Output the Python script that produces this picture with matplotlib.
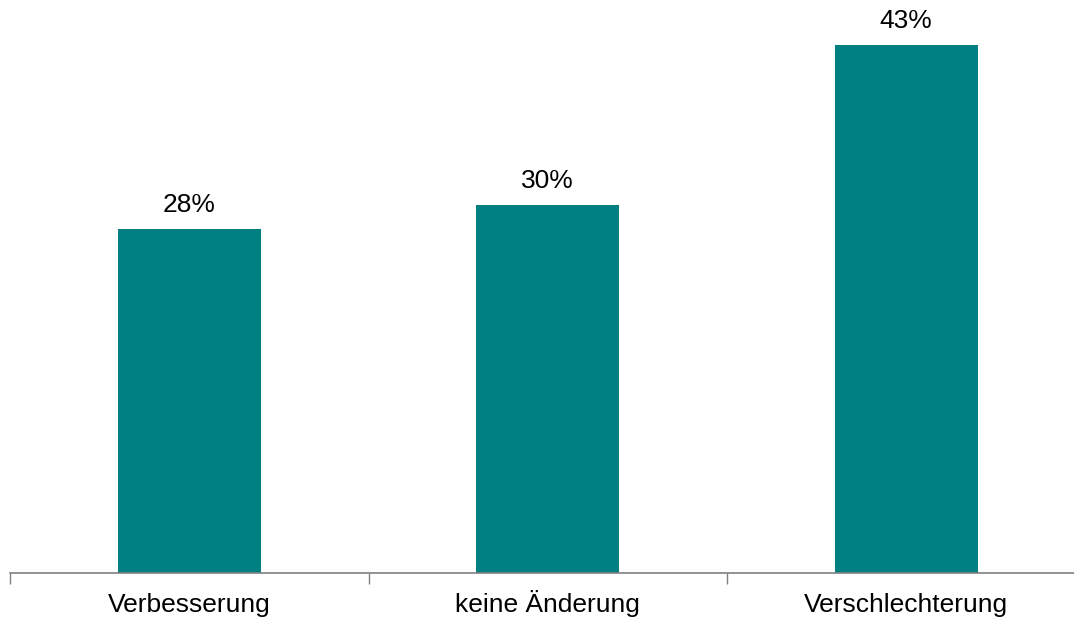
import numpy as np
import matplotlib
matplotlib.use('Agg')
import matplotlib.pyplot as plt

categories = ['Verbesserung', 'keine Änderung', 'Verschlechterung']
values = [28, 30, 43]
labels = ['28%', '30%', '43%']

plt.rcParams['font.family'] = ['Liberation Sans', 'DejaVu Sans']

fig = plt.figure(figsize=(10.74, 6.19), dpi=100)
# axes runs a bit past the right edge
ax = fig.add_axes([10 / 1074, 46 / 619, 1075.5 / 1074, 573 / 619])

x = np.arange(len(categories))
ax.bar(x, values, width=0.4, color='#008080')

# value labels, baseline ~17px above each bar
for xi, v, lab in zip(x, values, labels):
    ax.annotate(lab, xy=(xi, v), xytext=(0, 12.2), textcoords='offset points',
                ha='center', va='baseline', fontsize=19, color='black')

# category names on a common baseline below the axis
for xi, cat in zip(x, categories):
    ax.annotate(cat, xy=(xi, 0), xycoords=('data', 'axes fraction'),
                xytext=(0, -28.1), textcoords='offset points',
                ha='center', va='baseline', fontsize=19, color='black')

ax.set_xlim(-0.5, 2.5)
ax.set_ylim(0, 46.66)

ax.set_xticks([-0.5, 0.5, 1.5, 2.5])
ax.set_xticklabels([])
ax.tick_params(axis='x', which='major', length=8, color='#808080', width=1)
ax.set_yticks([])

for s in ['top', 'right', 'left']:
    ax.spines[s].set_visible(False)
ax.spines['bottom'].set_color('#808080')
ax.spines['bottom'].set_linewidth(1.2)

fig.savefig('out.png', dpi=100)
